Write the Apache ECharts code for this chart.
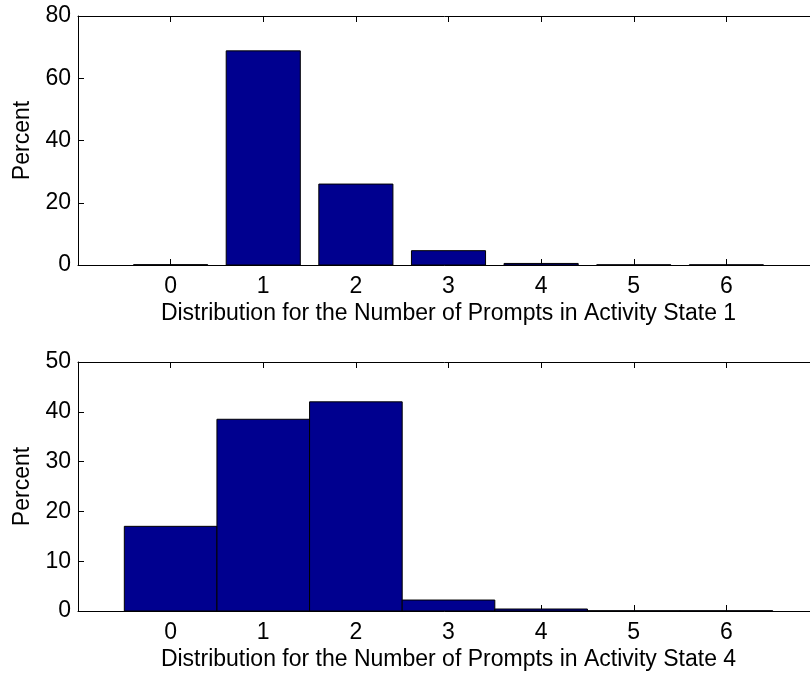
<!DOCTYPE html>
<html>
<head>
<meta charset="utf-8">
<script src="https://cdn.jsdelivr.net/npm/echarts@6/dist/echarts.min.js"></script>
<style>
html,body{margin:0;padding:0;background:#fff;}
#chart{width:810px;height:673px;}
</style>
</head>
<body>
<div id="chart"></div>
<script>
var categories = [0, 1, 2, 3, 4, 5, 6];
var state1Values = [0.1, 68.8, 26.0, 4.6, 0.5, 0.05, 0.05];
var state4Values = [17.0, 38.5, 42.0, 2.2, 0.4, 0.05, 0.05];
var xLabels = ['0', '1', '2', '3', '4', '5', '6'];
var yTicks1 = [0, 20, 40, 60, 80];
var yTicks2 = [0, 10, 20, 30, 40, 50];
var xTitle1 = 'Distribution for the Number of Prompts in Activity State 1';
var xTitle2 = 'Distribution for the Number of Prompts in Activity State 4';
var yTitle = 'Percent';

var FONT = "'Liberation Sans', Arial, sans-serif";
var FS = 23;
var chart = echarts.init(document.getElementById('chart'), null, {renderer: 'canvas'});

function pairs(vals) {
  return categories.map(function (c, i) { return [c, vals[i]]; });
}
function barRender(half) {
  return function (params, api) {
    var x = api.value(0), y = api.value(1);
    var p1 = api.coord([x - half, y]);
    var p2 = api.coord([x + half, 0]);
    return {
      type: 'rect',
      shape: {x: p1[0], y: p1[1], width: p2[0] - p1[0], height: p2[1] - p1[1]},
      style: {fill: '#00008F', stroke: '#000', lineWidth: 1}
    };
  };
}
function xAxisBottom(gi, title) {
  return {
    type: 'value', gridIndex: gi, position: 'bottom', min: -1, max: 7, interval: 1,
    axisLine: {show: true, onZero: false, lineStyle: {color: '#000', width: 1}},
    axisTick: {show: true, inside: true, length: 6, lineStyle: {color: '#000'}},
    axisLabel: {
      show: true, margin: 10, color: '#000', fontFamily: FONT, fontSize: FS,
      formatter: function (v) { var i = categories.indexOf(v); return i >= 0 ? xLabels[i] : ''; }
    },
    splitLine: {show: false},
    name: title, nameLocation: 'middle', nameGap: 37,
    nameTextStyle: {color: '#000', fontFamily: FONT, fontSize: FS}
  };
}
function xAxisTop(gi) {
  return {
    type: 'value', gridIndex: gi, position: 'top', min: -1, max: 7, interval: 1,
    axisLine: {show: true, onZero: false, lineStyle: {color: '#000', width: 1}},
    axisTick: {show: true, inside: true, length: 6, lineStyle: {color: '#000'}},
    axisLabel: {show: false}, splitLine: {show: false}
  };
}
function yAxis(gi, ticks) {
  return {
    type: 'value', gridIndex: gi, min: ticks[0], max: ticks[ticks.length - 1],
    interval: ticks[1] - ticks[0],
    axisLine: {show: true, onZero: false, lineStyle: {color: '#000', width: 1}},
    axisTick: {show: true, inside: true, length: 6, lineStyle: {color: '#000'}},
    axisLabel: {show: true, margin: 7, color: '#000', fontFamily: FONT, fontSize: FS},
    splitLine: {show: false},
    name: yTitle, nameLocation: 'middle', nameGap: 44,
    nameTextStyle: {color: '#000', fontFamily: FONT, fontSize: FS}
  };
}

chart.setOption({
  backgroundColor: '#fff',
  animation: false,
  grid: [
    {left: 78, top: 16, width: 741, height: 249, outerBoundsMode: 'none', containLabel: false},
    {left: 78, top: 362, width: 741, height: 249, outerBoundsMode: 'none', containLabel: false}
  ],
  xAxis: [xAxisBottom(0, xTitle1), xAxisTop(0), xAxisBottom(1, xTitle2), xAxisTop(1)],
  yAxis: [yAxis(0, yTicks1), yAxis(1, yTicks2)],
  series: [
    {type: 'custom', xAxisIndex: 0, yAxisIndex: 0, renderItem: barRender(0.4),
     encode: {x: 0, y: 1}, data: pairs(state1Values)},
    {type: 'custom', xAxisIndex: 2, yAxisIndex: 1, renderItem: barRender(0.5),
     encode: {x: 0, y: 1}, data: pairs(state4Values)}
  ]
});
</script>
</body>
</html>
